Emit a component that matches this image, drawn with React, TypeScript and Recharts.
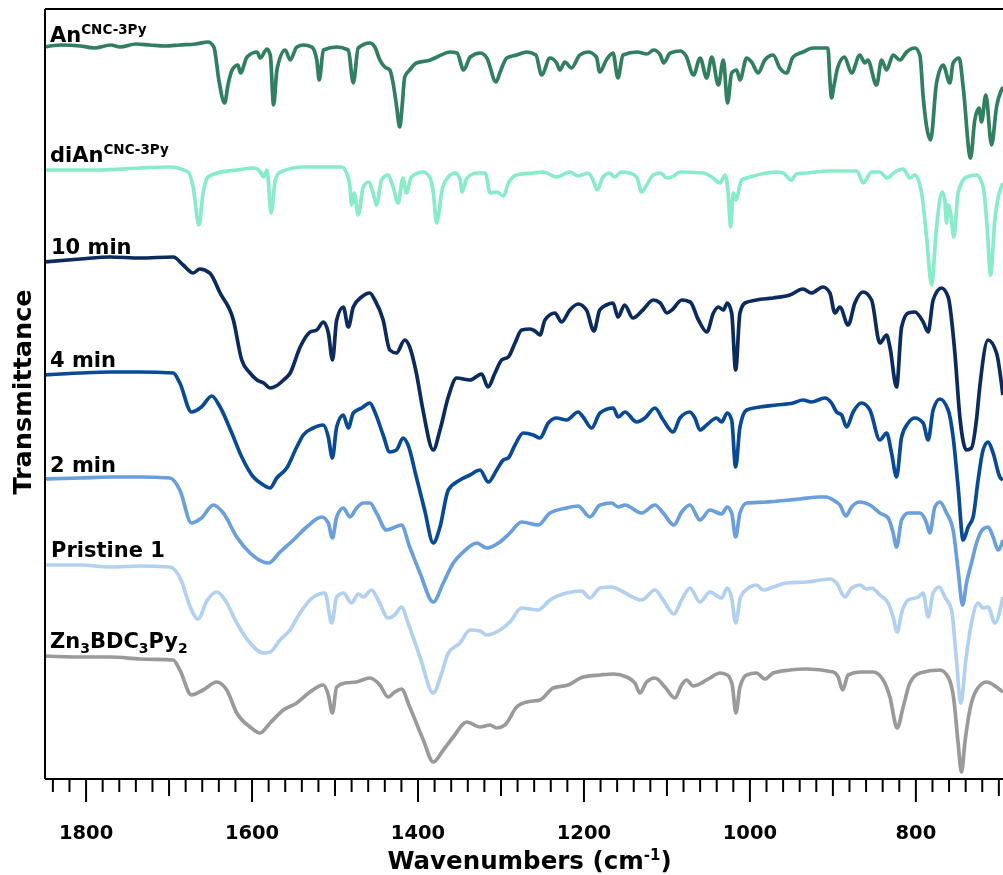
import React from 'react';
import { LineChart, Line, XAxis, YAxis, ReferenceLine } from 'recharts';

type P = [number, number];

// [wavenumber (cm-1), transmittance (offset, a.u.)]
const anCNC3Py: P[] = [
  [1850, 732], [1830, 734], [1807, 733], [1790, 731], [1770, 734], [1759, 732], [1740, 735], [1723, 734],
  [1705, 733], [1687, 734], [1668, 735], [1653, 737], [1646, 732], [1640, 699], [1633, 676], [1629, 694],
  [1624, 709], [1617, 714], [1614, 706], [1606, 722], [1594, 727], [1590, 721], [1582, 730], [1578, 724],
  [1574, 674], [1570, 709], [1560, 729], [1554, 719], [1546, 732], [1538, 734], [1528, 732], [1522, 719],
  [1519, 699], [1514, 729], [1498, 732], [1484, 729], [1478, 696], [1472, 731], [1458, 736], [1452, 732],
  [1446, 719], [1440, 712], [1434, 709], [1430, 696], [1426, 674], [1422, 652], [1419, 674], [1416, 702],
  [1410, 709], [1402, 716], [1385, 719], [1377, 722], [1361, 727], [1353, 726], [1345, 709], [1337, 722],
  [1325, 726], [1317, 721], [1306, 697], [1301, 707], [1293, 721], [1281, 724], [1269, 727], [1258, 724],
  [1251, 704], [1241, 721], [1233, 716], [1229, 709], [1223, 717], [1215, 711], [1205, 724], [1195, 727],
  [1185, 722], [1181, 707], [1173, 719], [1165, 726], [1159, 701], [1153, 724], [1136, 727], [1124, 725],
  [1116, 729], [1108, 724], [1104, 716], [1096, 726], [1084, 728], [1077, 723], [1068, 704], [1060, 721],
  [1052, 701], [1046, 722], [1038, 694], [1032, 719], [1027, 676], [1022, 706], [1016, 709], [1012, 699],
  [1004, 721], [998, 717], [990, 706], [982, 719], [972, 724], [964, 711], [956, 706], [948, 722],
  [936, 727], [924, 731], [906, 731], [903.6, 699], [901.6, 681], [899, 692], [894, 712], [886, 722],
  [877.5, 706], [867.5, 724], [861.5, 716], [858, 719], [847.4, 694], [841.3, 719], [835.3, 709], [827.4, 724],
  [819.3, 719], [811.2, 727], [801.2, 731], [795.2, 724], [791.2, 682], [782.3, 639], [775.1, 696], [767.1, 714],
  [759.1, 696], [755.1, 716], [747.8, 721], [743, 692], [734.1, 621], [729, 659], [723.8, 671], [720.9, 657],
  [715.7, 684], [708.8, 634], [702.8, 672], [695.2, 692],
];

const diAnCNC3Py: P[] = [
  [1850, 609], [1783, 609], [1735, 611], [1699, 612], [1677, 607], [1671, 592], [1664, 554], [1659, 586],
  [1653, 602], [1642, 606], [1618, 609], [1598, 611], [1590, 607], [1586, 602], [1582, 609], [1577, 566],
  [1572, 599], [1566, 607], [1538, 612], [1492, 612], [1486, 606], [1482, 592], [1480, 574], [1477, 586],
  [1472, 564], [1466, 592], [1460, 597], [1454, 586], [1450, 574], [1444, 599], [1436, 604], [1430, 592],
  [1424, 576], [1418, 601], [1414, 586], [1408, 602], [1394, 607], [1386, 602], [1381.5, 586], [1377.5, 556],
  [1371, 589], [1363.5, 602], [1355, 606], [1349, 599], [1347, 587], [1341, 601], [1329, 606], [1319, 606],
  [1313, 586], [1305, 587], [1297, 583], [1291, 596], [1281, 604], [1261, 606], [1249, 607], [1233, 602],
  [1217, 607], [1207, 603], [1195, 606], [1189, 599], [1184, 589], [1177, 602], [1169, 606], [1163, 602],
  [1155, 607], [1145, 606], [1136.5, 602], [1130.5, 587], [1124.5, 594], [1116.5, 604], [1108, 606], [1100, 601],
  [1094, 602], [1084, 607], [1056, 606], [1046, 602], [1036, 596], [1030, 604], [1026.2, 586], [1023.3, 552],
  [1020.1, 586], [1017, 579], [1010, 599], [1000, 602], [980, 606], [968, 607], [960, 606], [950, 599],
  [944, 605], [932, 606], [904, 608], [871, 608], [863.5, 596], [853.4, 607], [843.4, 607], [834.6, 601],
  [825.3, 607], [815.3, 610], [807.2, 601], [801.2, 604], [793.1, 586], [787.1, 542], [781.1, 494], [775.1, 552],
  [768.3, 587], [765.1, 579], [763, 556], [761.1, 574], [758.2, 566], [754.2, 542], [749.1, 586], [739, 602],
  [726.9, 604], [718.9, 592], [714.1, 552], [710, 504], [704.8, 559], [695.2, 596],
];

const min10: P[] = [
  [1850, 517], [1807, 520], [1771, 522], [1735, 521], [1695, 522], [1683, 514], [1671, 506], [1663, 510],
  [1651, 506], [1638.5, 486], [1622.5, 459], [1612.4, 419], [1602.4, 406], [1594, 399], [1586, 396], [1578, 391],
  [1571, 393], [1562, 399], [1554, 406], [1542, 432], [1530, 447], [1522, 449], [1514, 457], [1508, 446],
  [1503, 419], [1498, 459], [1490, 472], [1484, 452], [1478, 472], [1468, 482], [1458, 486], [1452, 479],
  [1442, 459], [1434, 429], [1426, 426], [1416, 439], [1410, 432], [1402, 406], [1394, 369], [1381.6, 329],
  [1373.5, 349], [1363.5, 382], [1353.4, 401], [1337.4, 399], [1323.3, 405], [1315.7, 392], [1307.2, 406], [1299.2, 419],
  [1291.2, 422], [1283.1, 436], [1275.1, 449], [1265.1, 450], [1259.1, 448], [1253, 444], [1247, 459], [1235, 466],
  [1227, 457], [1217, 469], [1207, 475], [1197, 469], [1188, 448], [1181, 469], [1173, 474], [1165, 476],
  [1159, 462], [1151, 474], [1141, 461], [1129, 469], [1116.5, 479], [1108, 476], [1100, 466], [1094, 469],
  [1082, 479], [1072, 477], [1062, 459], [1052, 447], [1044, 466], [1038, 472], [1032, 469], [1027.3, 476],
  [1022, 466], [1017.2, 409], [1012, 466], [1006, 476], [992, 479], [972, 481], [952, 484], [936, 490],
  [926, 486], [912, 492], [903.6, 486], [897.6, 466], [891.6, 472], [881.6, 454], [873.5, 476], [863.5, 487],
  [853.4, 479], [843.4, 436], [835.3, 444], [831.3, 432], [823.3, 392], [817.2, 452], [809.3, 466], [801.2, 467],
  [791.2, 457], [785.2, 447], [779.2, 479], [769.1, 491], [761.1, 482], [753, 426], [747, 362], [739, 329],
  [733, 331], [727, 359], [723, 392], [713, 439], [702.8, 426], [695.2, 384],
];

const min4: P[] = [
  [1850, 404], [1807, 406], [1771, 407], [1735, 407], [1695, 406], [1687, 396], [1673, 367], [1661, 372],
  [1648.5, 383], [1638.5, 372], [1624.4, 346], [1612.4, 322], [1598.4, 302], [1588, 295], [1578.3, 291], [1570.2, 301],
  [1558.2, 311], [1546.1, 332], [1538.2, 344], [1526.1, 351], [1514.1, 354], [1508.1, 342], [1503.2, 321], [1498, 352],
  [1490, 364], [1484, 351], [1478, 366], [1468, 371], [1458, 376], [1452, 367], [1442, 344], [1434, 327],
  [1426, 329], [1418, 341], [1412, 334], [1402, 302], [1392, 269], [1381.6, 236], [1373.5, 252], [1363.5, 289],
  [1349.4, 299], [1337.4, 304], [1325.3, 309], [1315.3, 297], [1305.2, 309], [1297.2, 319], [1291.2, 321], [1283.1, 334],
  [1273.1, 346], [1261.1, 344], [1253, 341], [1243, 356], [1233, 361], [1221, 359], [1207, 367], [1201, 362],
  [1190.7, 351], [1180.7, 366], [1164.7, 371], [1158.7, 362], [1150.6, 367], [1136.5, 357], [1126.5, 361], [1114.5, 371],
  [1104.5, 359], [1092.4, 347], [1084.3, 361], [1072.3, 367], [1066.3, 361], [1060.2, 349], [1052.2, 354], [1040.1, 361],
  [1034.1, 357], [1027.3, 366], [1022, 359], [1017.2, 312], [1012, 352], [1004, 369], [988, 372], [968, 374],
  [948, 376], [936, 379], [926, 377], [909.6, 381], [901.6, 376], [895.6, 367], [889.5, 364], [883.5, 352],
  [875.6, 367], [865.4, 376], [855.4, 369], [843.4, 339], [835.3, 346], [829.3, 326], [823.3, 302], [817.2, 342],
  [809.3, 356], [801.2, 361], [791.2, 356], [785.2, 339], [779.2, 369], [771.1, 380], [761.1, 369], [755.1, 342],
  [749.1, 292], [743, 239], [737, 252], [731, 262], [725, 299], [719, 329], [712.9, 337], [706.9, 326],
  [698.8, 302], [695.2, 299],
];

const min2: P[] = [
  [1850, 300], [1807, 301], [1771, 302], [1735, 302], [1699, 301], [1687, 289], [1673, 256], [1661, 261],
  [1646.6, 274], [1634.6, 266], [1618.4, 242], [1602.4, 226], [1580.3, 216], [1566.2, 227], [1550.2, 239], [1534.1, 252],
  [1516, 262], [1508.1, 256], [1503.2, 241], [1498, 262], [1490, 271], [1482, 262], [1474, 271], [1466, 276],
  [1458, 276], [1450, 266], [1438, 249], [1430, 251], [1420, 254], [1410, 232], [1397.6, 206], [1381.6, 177],
  [1369.5, 196], [1357.5, 216], [1345.4, 227], [1329.3, 236], [1317.2, 231], [1301.2, 237], [1289.2, 246], [1275.1, 257],
  [1255.1, 254], [1241, 266], [1221, 271], [1207, 273], [1192.8, 262], [1180.7, 274], [1166.7, 276], [1158.7, 272],
  [1150.6, 274], [1130.5, 266], [1114.5, 274], [1104.5, 266], [1091.6, 254], [1082.3, 267], [1072.3, 274], [1060.2, 259],
  [1048.2, 269], [1034.1, 265], [1027.3, 272], [1022, 266], [1017.2, 242], [1012, 266], [1004, 276], [980, 277],
  [952, 279], [940, 280], [916, 282], [907.6, 282], [899.6, 279], [891.6, 274], [884.3, 263], [877.5, 272],
  [867.5, 277], [855.4, 274], [843.4, 266], [833.4, 261], [827.4, 246], [823.3, 232], [817.2, 259], [809.3, 266],
  [795.2, 266], [787.1, 256], [783.2, 246], [777.1, 272], [771.1, 277], [763, 266], [755.1, 249], [749.1, 209],
  [743.7, 174], [739, 196], [733, 216], [726.9, 236], [718.9, 250], [712.9, 252], [706.9, 242], [700.8, 229],
  [695.2, 239],
];

const pristine1: P[] = [
  [1850, 214], [1807, 214], [1771, 212], [1735, 213], [1699, 212], [1685, 198], [1675, 173], [1665, 160],
  [1654.6, 178], [1642.5, 187], [1632.5, 179], [1618.4, 156], [1602.4, 136], [1586.4, 126], [1578.3, 127], [1566.2, 139],
  [1554.2, 149], [1542.2, 166], [1526.1, 182], [1512, 186], [1504, 156], [1498, 182], [1490, 186], [1480, 176],
  [1472, 185], [1466, 182], [1456, 189], [1448, 179], [1436, 161], [1428, 164], [1420, 172], [1412, 156],
  [1397.6, 122], [1381.6, 86], [1371.4, 106], [1363.5, 126], [1349.4, 136], [1337.4, 149], [1325.3, 148], [1317.2, 144],
  [1301.2, 149], [1289.2, 157], [1275.1, 171], [1255.1, 169], [1241, 179], [1221, 186], [1203, 188], [1192.8, 181],
  [1180.7, 191], [1166.7, 192], [1152.6, 187], [1130.5, 179], [1114.5, 189], [1104.5, 179], [1091.6, 165], [1082.3, 179],
  [1072.3, 191], [1060.2, 177], [1048.2, 187], [1034.1, 181], [1027.3, 191], [1022, 181], [1017.2, 156], [1011.2, 182],
  [1002, 191], [992, 194], [984, 189], [972, 192], [956, 196], [932, 197], [903.6, 200], [895.6, 196],
  [885.6, 182], [877.5, 191], [867.5, 194], [859.4, 190], [853.4, 191], [843.4, 184], [833.4, 176], [827.4, 162],
  [822.5, 147], [817.2, 166], [809.3, 179], [797.2, 182], [791.2, 186], [785.2, 162], [779.2, 186], [771.9, 192],
  [765.1, 182], [757, 169], [751.8, 126], [745.8, 76], [739.8, 119], [733, 156], [725, 176], [719, 171],
  [712.9, 172], [704.8, 156], [695.2, 182],
];

const zn3BDC3Py2: P[] = [
  [1850, 123], [1807, 122], [1771, 122], [1735, 120], [1695, 119], [1687, 109], [1673, 84], [1659, 89],
  [1642.5, 97], [1630.5, 89], [1618.4, 66], [1602.4, 52], [1590.4, 46], [1578.3, 56], [1562.3, 69], [1546.1, 76],
  [1530.1, 87], [1514.1, 94], [1508.1, 84], [1503.2, 66], [1498, 92], [1488, 96], [1474, 97], [1458, 101],
  [1446, 94], [1436, 82], [1428, 87], [1420, 90], [1410, 72], [1393.6, 39], [1381.6, 17], [1369.5, 29],
  [1357.5, 42], [1341.3, 57], [1325.3, 52], [1313.2, 54], [1305.2, 51], [1295.2, 54], [1281.1, 72], [1269, 77],
  [1253, 79], [1237, 91], [1219, 94], [1201, 102], [1180.7, 104], [1164.7, 105], [1148.6, 102], [1138.6, 96],
  [1132.5, 86], [1124.5, 97], [1114.5, 101], [1102.4, 92], [1090.4, 81], [1082.3, 94], [1076.3, 99], [1068.3, 93],
  [1056.2, 97], [1048.2, 101], [1036.1, 106], [1027.3, 104], [1021.3, 94], [1016.9, 66], [1012, 92], [1004, 104],
  [992, 106], [982, 100], [972, 106], [952, 109], [932, 110], [899.6, 107], [893.6, 102], [888.3, 89],
  [881.6, 104], [867.5, 107], [851.4, 107], [839.4, 99], [831.3, 82], [822.5, 51], [815.3, 72], [807.2, 96],
  [795.2, 106], [771.1, 109], [761.1, 102], [754.2, 79], [749.1, 36], [745, 7], [741, 36], [735, 69],
  [726.9, 89], [714.8, 97], [702.8, 92], [695.2, 87],
];

const seriesList: P[][] = [anCNC3Py, diAnCNC3Py, min10, min4, min2, pristine1, zn3BDC3Py2];
const seriesNames = ['AnCNC-3Py', 'diAnCNC-3Py', '10 min', '4 min', '2 min', 'Pristine 1', 'Zn3BDC3Py2'];
const seriesColors = ['#2f7f60', '#88ecc8', '#0b2a5e', '#084a96', '#699fdc', '#b2d1f0', '#9a9a9a'];

const xTicks: number[] = [];
for (let w = 700; w <= 1840; w += 20) xTicks.push(w);

const FONT = '"DejaVu Sans", Verdana, sans-serif';

const AxisTick = (props: any) => {
  const { x, y, payload } = props;
  const v = payload.value as number;
  const major = v % 200 === 0;
  const mid = !major && v % 100 === 0;
  const len = major ? 23 : mid ? 17 : 13;
  return (
    <g>
      <line x1={x} x2={x} y1={y} y2={y + len} stroke="#000" strokeWidth={2} />
      {major && (
        <text x={x} y={y + 60} textAnchor="middle" fontFamily={FONT} fontWeight="bold" fontSize={19.5} fill="#000">
          {v}
        </text>
      )}
    </g>
  );
};

const lbl = { fontFamily: FONT, fontWeight: 'bold' as const, fontSize: 21, fill: '#000' };

export default function App() {
  return (
    <div style={{ position: 'fixed', left: 8, top: 8, width: 995, height: 867, overflow: 'hidden' }}>
      <LineChart width={995} height={867} margin={{ top: 1, right: 0, bottom: 0, left: 0 }}>
        <XAxis
          type="number"
          dataKey="wn"
          domain={[695, 1849.5]}
          reversed
          allowDataOverflow
          ticks={xTicks}
          interval={0}
          tickSize={0}
          tickMargin={0}
          tickLine={false}
          tick={(p: any) => <AxisTick {...p} />}
          axisLine={{ stroke: '#000', strokeWidth: 2 }}
          stroke="#000"
          height={96}
        />
        <YAxis
          type="number"
          domain={[0, 770]}
          allowDataOverflow
          width={37}
          tick={false}
          tickLine={false}
          axisLine={{ stroke: '#000', strokeWidth: 2 }}
          stroke="#000"
        />
        <ReferenceLine y={770} stroke="#000" strokeWidth={2} />
        {seriesList.map((s, i) => (
          <Line
            key={seriesNames[i]}
            name={seriesNames[i]}
            data={s.map(([wn, t]) => ({ wn, t }))}
            dataKey="t"
            type="monotone"
            stroke={seriesColors[i]}
            strokeWidth={3.7}
            strokeLinejoin="round"
            dot={false}
            activeDot={false}
            isAnimationActive={false}
          />
        ))}
      </LineChart>
      <svg
        width={995}
        height={867}
        style={{ position: 'absolute', left: 0, top: 0, pointerEvents: 'none' }}
      >
        <text x={42} y={33.5} {...lbl}>
          An<tspan fontSize={13.5} dy={-7.5}>CNC-3Py</tspan>
        </text>
        <text x={42} y={153.5} {...lbl}>
          diAn<tspan fontSize={13.5} dy={-7.5}>CNC-3Py</tspan>
        </text>
        <text x={43} y={246} {...lbl}>10 min</text>
        <text x={42} y={358.7} {...lbl}>4 min</text>
        <text x={42} y={463.7} {...lbl}>2 min</text>
        <text x={43} y={548.7} {...lbl}>Pristine 1</text>
        <text x={42} y={640.3} {...lbl}>
          Zn<tspan fontSize={14} dy={5}>3</tspan>
          <tspan dy={-5}>BDC</tspan>
          <tspan fontSize={14} dy={5}>3</tspan>
          <tspan dy={-5}>Py</tspan>
          <tspan fontSize={14} dy={5}>2</tspan>
        </text>
        <text
          x={23}
          y={384}
          transform="rotate(-90, 23, 384)"
          textAnchor="middle"
          fontFamily={FONT}
          fontWeight="bold"
          fontSize={25.5}
          fill="#000"
        >
          Transmittance
        </text>
        <text x={521.5} y={861} textAnchor="middle" fontFamily={FONT} fontWeight="bold" fontSize={24.5} fill="#000">
          Wavenumbers (cm<tspan fontSize={15} dy={-9}>-1</tspan>
          <tspan dy={9}>)</tspan>
        </text>
      </svg>
    </div>
  );
}
